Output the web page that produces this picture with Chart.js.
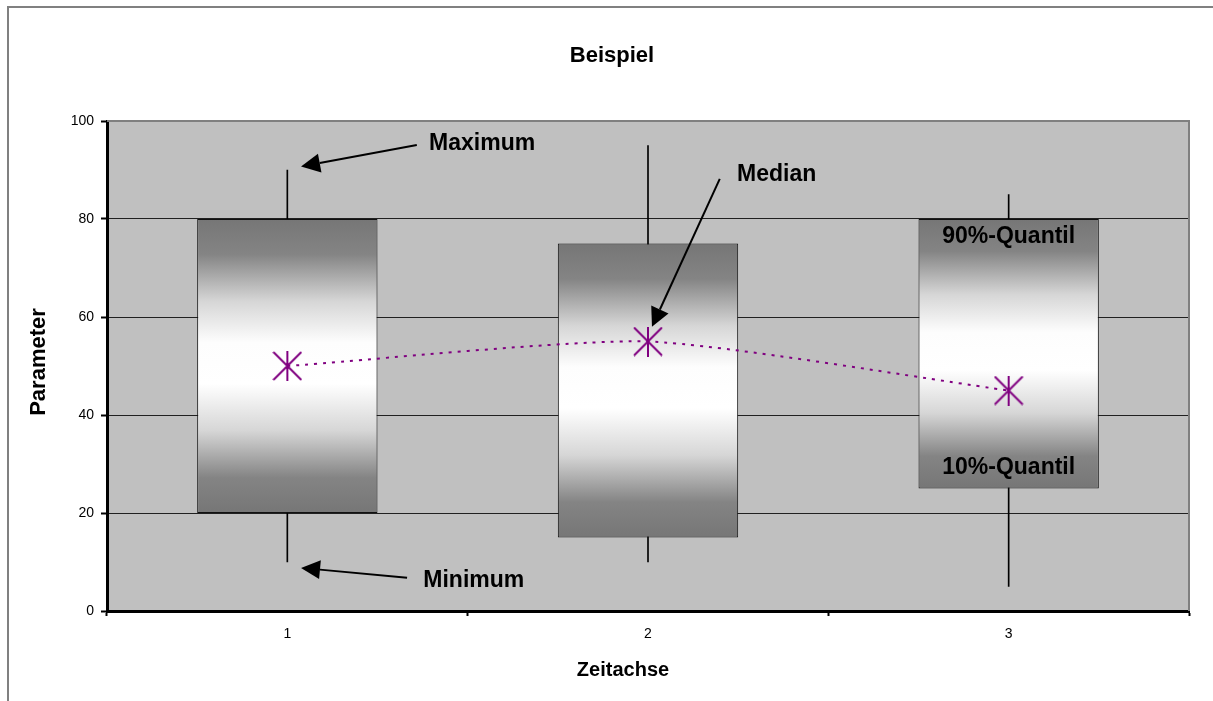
<!DOCTYPE html>
<html>
<head>
<meta charset="utf-8">
<title>Beispiel</title>
<script src="https://cdn.jsdelivr.net/npm/chart.js@4/dist/chart.umd.min.js"></script>
<style>
  html, body { margin: 0; padding: 0; background: #ffffff; }
  #wrap { width: 1213px; height: 701px; }
</style>
</head>
<body>
<div id="wrap"><canvas id="chart" width="1213" height="701"></canvas></div>
<script>
// ---- data ----
const categories = ['1', '2', '3'];
const whiskerMin = [10, 10, 5];
const whiskerMax = [90, 95, 85];
const quantil10  = [20, 15, 25];
const quantil90  = [80, 75, 80];
const medians    = [50, 55, 45];
const yTickValues = [0, 20, 40, 60, 80, 100];

const FONT = "'Liberation Sans', Arial, Helvetica, sans-serif";
const PURPLE = '#800080';

// call-outs, placed in data space (x = category index, y = value)
const callouts = [
  { text: 'Maximum', label: [0.393, 95.3], from: [0.359, 95.1], to: [0.038, 90.7] },
  { text: 'Minimum', label: [0.377, 6.1],  from: [0.332, 6.8],  to: [0.038, 8.8] },
  { text: 'Median',  label: [1.247, 89.0], from: [1.199, 88.2], to: [1.011, 58.0] }
];

// asterisk marker used for the medians
function makeAsterisk(size, color) {
  const c = document.createElement('canvas');
  c.width = size; c.height = size;
  const g = c.getContext('2d');
  g.strokeStyle = color;
  g.lineWidth = 2;
  g.beginPath();
  g.moveTo(1, 1); g.lineTo(size - 1, size - 1);
  g.moveTo(size - 1, 1); g.lineTo(1, size - 1);
  g.moveTo(size / 2, 0); g.lineTo(size / 2, size);
  g.stroke();
  return c;
}
const asterisk = makeAsterisk(30, PURPLE);

// vertical grey-white-grey shading for each box
function boxShade(ctx) {
  const chart = ctx.chart;
  if (!chart.chartArea || ctx.dataIndex === undefined) return '#c8c8c8';
  const y = chart.scales.y;
  const top = y.getPixelForValue(quantil90[ctx.dataIndex]);
  const bottom = y.getPixelForValue(quantil10[ctx.dataIndex]);
  const g = chart.ctx.createLinearGradient(0, top, 0, bottom);
  g.addColorStop(0.00, '#767676');
  g.addColorStop(0.12, '#848484');
  g.addColorStop(0.28, '#d6d6d6');
  g.addColorStop(0.42, '#fdfdfd');
  g.addColorStop(0.56, '#ffffff');
  g.addColorStop(0.72, '#d6d6d6');
  g.addColorStop(0.88, '#848484');
  g.addColorStop(1.00, '#767676');
  return g;
}

function drawArrow(c, x0, y0, x1, y1) {
  const ang = Math.atan2(y1 - y0, x1 - x0);
  const headLen = 19, headHalf = 9.5;
  const bx = x1 - headLen * Math.cos(ang), by = y1 - headLen * Math.sin(ang);
  c.strokeStyle = '#000';
  c.fillStyle = '#000';
  c.lineWidth = 2;
  c.beginPath();
  c.moveTo(x0, y0);
  c.lineTo(bx, by);
  c.stroke();
  c.beginPath();
  c.moveTo(x1, y1);
  c.lineTo(bx + headHalf * Math.sin(ang), by - headHalf * Math.cos(ang));
  c.lineTo(bx - headHalf * Math.sin(ang), by + headHalf * Math.cos(ang));
  c.closePath();
  c.fill();
}

const decorations = {
  id: 'decorations',
  beforeDraw(chart) {
    const c = chart.ctx, a = chart.chartArea;
    c.save();
    c.fillStyle = '#ffffff';
    c.fillRect(0, 0, chart.width, chart.height);
    c.strokeStyle = '#808080';
    c.lineWidth = 2;
    c.strokeRect(8, 7, chart.width + 50, chart.height + 50);
    c.fillStyle = '#c0c0c0';
    c.fillRect(a.left, a.top, a.right - a.left, a.bottom - a.top);
    c.restore();
  },
  beforeDatasetsDraw(chart) {
    const c = chart.ctx, a = chart.chartArea;
    c.save();
    c.strokeStyle = '#808080';
    c.lineWidth = 2;
    c.beginPath();
    c.moveTo(a.left, a.top);
    c.lineTo(a.right, a.top);
    c.lineTo(a.right, a.bottom);
    c.stroke();
    c.restore();
  },
  afterDatasetsDraw(chart) {
    const c = chart.ctx, xs = chart.scales.x, ys = chart.scales.y;
    const px = v => xs.getPixelForValue(v);
    const py = v => ys.getPixelForValue(v);
    c.save();
    // call-outs with arrows
    c.font = 'bold 23px ' + FONT;
    c.textAlign = 'left';
    c.textBaseline = 'middle';
    c.fillStyle = '#000';
    callouts.forEach(o => {
      drawArrow(c, px(o.from[0]), py(o.from[1]), px(o.to[0]), py(o.to[1]));
      c.fillText(o.text, px(o.label[0]), py(o.label[1]));
    });
    // quantile labels inside the third box
    c.textAlign = 'center';
    const bx = px(2);
    c.fillText('90%-Quantil', bx, py(quantil90[2]) + 18);
    c.fillText('10%-Quantil', bx, py(quantil10[2]) - 21);
    // chart title and axis titles
    c.font = 'bold 22px ' + FONT;
    c.fillText('Beispiel', 612, 56);
    c.font = 'bold 20px ' + FONT;
    c.fillText('Zeitachse', 623, 670);
    c.translate(39, 362);
    c.rotate(-Math.PI / 2);
    c.font = 'bold 22px ' + FONT;
    c.fillText('Parameter', 0, 0);
    c.restore();
  }
};

new Chart(document.getElementById('chart'), {
  data: {
    labels: categories,
    datasets: [
      {
        type: 'line',
        label: 'Median',
        data: medians,
        order: 0,
        borderColor: PURPLE,
        borderWidth: 2,
        borderDash: [3, 6],
        tension: 0.2,
        fill: false,
        pointStyle: asterisk,
        pointRadius: 15,
        pointHoverRadius: 15
      },
      {
        type: 'bar',
        label: 'Quantile',
        data: quantil10.map((v, i) => [v, quantil90[i]]),
        order: 1,
        grouped: false,
        backgroundColor: boxShade,
        borderColor: '#111111',
        borderWidth: 1,
        borderSkipped: false,
        categoryPercentage: 1,
        barPercentage: 0.5
      },
      {
        type: 'bar',
        label: 'Spannweite',
        data: whiskerMin.map((v, i) => [v, whiskerMax[i]]),
        order: 2,
        grouped: false,
        backgroundColor: '#000000',
        borderWidth: 0,
        barThickness: 1
      }
    ]
  },
  options: {
    responsive: false,
    animation: false,
    events: [],
    layout: { padding: { left: 0, top: 121, right: 24, bottom: 0 } },
    plugins: {
      legend: { display: false },
      title: { display: false },
      tooltip: { enabled: false }
    },
    scales: {
      x: {
        type: 'category',
        offset: true,
        afterFit(s) { s.height = 90; },
        border: { display: true, color: '#000', width: 3 },
        grid: {
          offset: true,
          drawOnChartArea: false,
          drawTicks: true,
          tickLength: 5,
          tickWidth: 2,
          tickColor: '#000'
        },
        ticks: {
          color: '#000',
          padding: 10,
          font: { family: FONT, size: 14 }
        }
      },
      y: {
        min: 0,
        max: 100,
        afterFit(s) { s.width = 107; },
        afterBuildTicks(s) { s.ticks = yTickValues.map(v => ({ value: v })); },
        border: { display: true, color: '#000', width: 3 },
        grid: {
          drawOnChartArea: true,
          drawTicks: true,
          tickLength: 6,
          tickWidth: 2,
          tickColor: '#000',
          lineWidth: 1,
          color: ctx => (ctx.tick && (ctx.tick.value === 100 || ctx.tick.value === 0)) ? 'rgba(0,0,0,0)' : '#202020'
        },
        ticks: {
          color: '#000',
          padding: 7,
          font: { family: FONT, size: 14 }
        }
      }
    }
  },
  plugins: [decorations]
});
</script>
</body>
</html>
